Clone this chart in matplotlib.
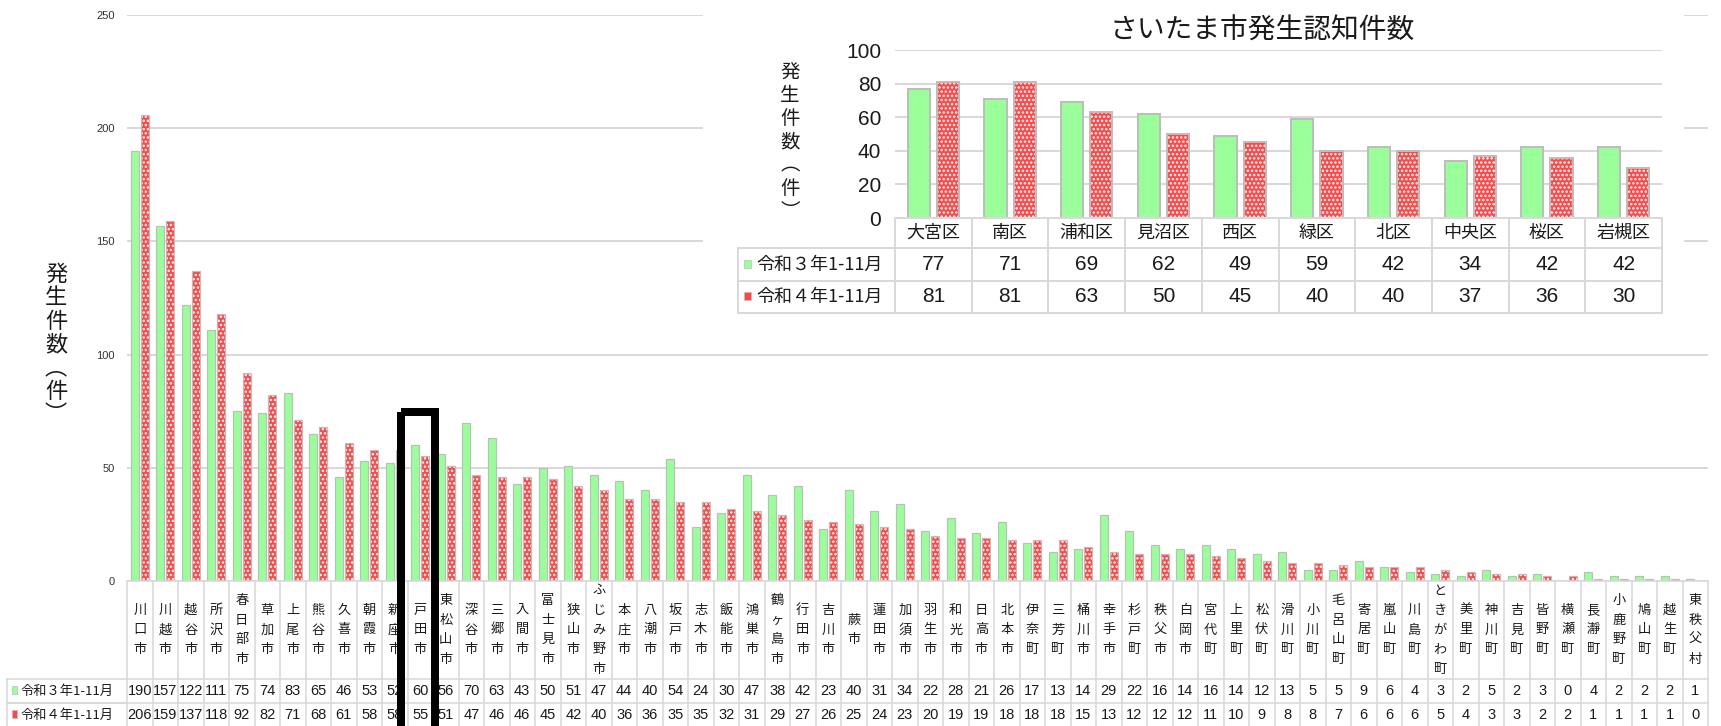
import matplotlib
matplotlib.use('Agg')
import matplotlib.pyplot as plt
from matplotlib import font_manager as fm
from matplotlib.patches import Rectangle
import matplotlib.transforms as mtrans
import numpy as np

# ---------------- data ----------------
municipalities = ['川口市', '川越市', '越谷市', '所沢市', '春日部市', '草加市', '上尾市', '熊谷市',
                  '久喜市', '朝霞市', '新座市', '戸田市', '東松山市', '深谷市', '三郷市', '入間市',
                  '富士見市', '狭山市', 'ふじみ野市', '本庄市', '八潮市', '坂戸市', '志木市', '飯能市',
                  '鴻巣市', '鶴ヶ島市', '行田市', '吉川市', '蕨市', '蓮田市', '加須市', '羽生市',
                  '和光市', '日高市', '北本市', '伊奈町', '三芳町', '桶川市', '幸手市', '杉戸町',
                  '秩父市', '白岡市', '宮代町', '上里町', '松伏町', '滑川町', '小川町', '毛呂山町',
                  '寄居町', '嵐山町', '川島町', 'ときがわ町', '美里町', '神川町', '吉見町', '皆野町',
                  '横瀬町', '長瀞町', '小鹿野町', '鳩山町', '越生町', '東秩父村']
r3_counts = [190, 157, 122, 111, 75, 74, 83, 65, 46, 53, 52, 60, 56, 70, 63, 43, 50, 51, 47, 44,
             40, 54, 24, 30, 47, 38, 42, 23, 40, 31, 34, 22, 28, 21, 26, 17, 13, 14, 29, 22,
             16, 14, 16, 14, 12, 13, 5, 5, 9, 6, 4, 3, 2, 5, 2, 3, 0, 4, 2, 2, 2, 1]
r4_counts = [206, 159, 137, 118, 92, 82, 71, 68, 61, 58, 58, 55, 51, 47, 46, 46, 45, 42, 40, 36,
             36, 35, 35, 32, 31, 29, 27, 26, 25, 24, 23, 20, 19, 19, 18, 18, 18, 15, 13, 12,
             12, 12, 11, 10, 9, 8, 8, 7, 6, 6, 6, 5, 4, 3, 3, 2, 2, 1, 1, 1, 1, 0]

wards = ['大宮区', '南区', '浦和区', '見沼区', '西区', '緑区', '北区', '中央区', '桜区', '岩槻区']
ward_r3 = [77, 71, 69, 62, 49, 59, 42, 34, 42, 42]
ward_r4 = [81, 81, 63, 50, 45, 40, 40, 37, 36, 30]

series_labels = ['令和３年1-11月', '令和４年1-11月']
main_ticks = [0, 50, 100, 150, 200, 250]
inset_ticks = [0, 20, 40, 60, 80, 100]
ylabel_chars = ['発', '生', '件', '数', '︵', '件', '︶']   # 発生件数(件), vertical forms
inset_title = 'さいたま市発生認知件数'

# ---------------- style ----------------
names = {f.name for f in fm.fontManager.ttflist}
JP = 'Noto Sans CJK JP'
NUM = 'Liberation Sans Narrow' if 'Liberation Sans Narrow' in names else 'Liberation Sans'
plt.rcParams['font.family'] = [JP, 'DejaVu Sans']
plt.rcParams['hatch.linewidth'] = 1.2

GREEN = '#99FF99'
RED = '#FF4747'
EDGE = '#BDBDBD'
GRID = '#D9D9D9'
TXT = '#1a1a1a'

W, H = 1721, 726
fig = plt.figure(figsize=(W / 100, H / 100), dpi=100)
fig.patch.set_facecolor('white')


def frac(x0, y0, x1, y1):
    return [x0 / W, 1 - y1 / H, (x1 - x0) / W, (y1 - y0) / H]


PX = 0.72  # points per pixel

# ---------------- main chart ----------------
ax = fig.add_axes(frac(127, 15, 1708, 581), zorder=1)
n = len(municipalities)
x = np.arange(n)
off, bw = 0.2, 0.31
ax.bar(x - off, r3_counts, bw, color=GREEN, edgecolor=EDGE, linewidth=1.2 * PX, zorder=3)
ax.bar(x + off, r4_counts, bw, color=RED, edgecolor='white', hatch='....', linewidth=0, zorder=3)
ax.bar(x + off, r4_counts, bw, fill=False, edgecolor=EDGE, linewidth=1.2 * PX, zorder=4)
ax.set_xlim(-0.5, n - 0.5)
ax.set_ylim(0, 250)
ax.set_yticks(main_ticks)
ax.set_yticklabels([str(t) for t in main_ticks], family=NUM, fontsize=8, color='#333333')
ax.tick_params(axis='y', length=0, pad=9)
ax.set_xticks([])
for s in ax.spines.values():
    s.set_visible(False)
ax.yaxis.grid(True, color=GRID, linewidth=2 * PX, zorder=0)
ax.set_axisbelow(True)

# ---------------- white background behind inset ----------------
bg = fig.add_axes([0, 0, 1, 1], zorder=2)
bg.set_xlim(0, W)
bg.set_ylim(H, 0)
bg.axis('off')
bg.patch.set_alpha(0)
bg.add_patch(Rectangle((703, 0), 1684 - 703, 330, facecolor='white', edgecolor='none'))

# ---------------- inset chart ----------------
ins = fig.add_axes(frac(895, 50, 1662, 218), zorder=3)
m = len(wards)
xi = np.arange(m)
ioff, ibw = 0.19, 0.29
ins.bar(xi - ioff, ward_r3, ibw, color=GREEN, edgecolor=EDGE, linewidth=2 * PX, zorder=3)
ins.bar(xi + ioff, ward_r4, ibw, color=RED, edgecolor='white', hatch='....', linewidth=0, zorder=3)
ins.bar(xi + ioff, ward_r4, ibw, fill=False, edgecolor=EDGE, linewidth=2 * PX, zorder=4)
ins.set_xlim(-0.5, m - 0.5)
ins.set_ylim(0, 100)
ins.set_yticks(inset_ticks)
ins.set_yticklabels([str(t) for t in inset_ticks], family=NUM, fontsize=15, color=TXT)
ins.tick_params(axis='y', length=0, pad=10)
ins.set_xticks([])
for s in ins.spines.values():
    s.set_visible(False)
ins.yaxis.grid(True, color=GRID, linewidth=2 * PX, zorder=0)
ins.set_axisbelow(True)
ins.patch.set_alpha(0)

# ---------------- overlay (tables, labels) ----------------
ov = fig.add_axes([0, 0, 1, 1], zorder=5)
ov.set_xlim(0, W)
ov.set_ylim(H, 0)
ov.axis('off')
ov.patch.set_alpha(0)

tm = mtrans.blended_transform_factory(ax.transData, ov.transData)
ti = mtrans.blended_transform_factory(ins.transData, ov.transData)

# main table
LW = 1.6 * PX
cat_top, cat_bot, r1_bot, r2_bot = 581, 679, 703, 727
for b in np.arange(n + 1) - 0.5:
    ov.plot([b, b], [cat_top, r2_bot], transform=tm, color=GRID, lw=LW, zorder=1)
ov.plot([-0.5, n - 0.5], [cat_top, cat_top], transform=tm, color=GRID, lw=LW, zorder=1)
ov.plot([7, 127], [cat_bot, cat_bot], color=GRID, lw=LW, zorder=1)
for yy in (cat_bot, r1_bot):
    ov.plot([-0.5, n - 0.5], [yy, yy], transform=tm, color=GRID, lw=LW, zorder=1)
    ov.plot([7, 127], [r1_bot, r1_bot], color=GRID, lw=LW, zorder=1)
ov.plot([7, 7], [cat_bot, r2_bot], color=GRID, lw=LW, zorder=1)

cat_mid = (cat_top + cat_bot) / 2
pitch = 19.5
for i, name in enumerate(municipalities):
    k = len(name)
    for j, ch in enumerate(name):
        yy = cat_mid + (j - (k - 1) / 2) * pitch
        ov.text(i, yy, ch, transform=tm, ha='center', va='center', fontsize=9.5, color=TXT)
    ov.text(i, (cat_bot + r1_bot) / 2, str(r3_counts[i]), transform=tm, ha='center', va='center',
            fontsize=10.5, family=NUM, color=TXT)
    ov.text(i, (r1_bot + r2_bot) / 2, str(r4_counts[i]), transform=tm, ha='center', va='center',
            fontsize=10.5, family=NUM, color=TXT)

for (y0, y1), lab, col in zip([(cat_bot, r1_bot), (r1_bot, r2_bot)], series_labels, [GREEN, RED]):
    yc = (y0 + y1) / 2
    ov.add_patch(Rectangle((12, yc - 5), 5, 8, facecolor=col, edgecolor=EDGE, lw=0.5))
    ov.text(21, yc, lab, ha='left', va='center', fontsize=9.5, color=TXT)

# main y label (vertical writing)
for j, ch in enumerate(ylabel_chars):
    ov.text(56, 274 + j * 23.5, ch, ha='center', va='center', fontsize=16, color=TXT)

# inset table
i_top, i_hb, i_r1, i_r2 = 218, 248, 281, 313
for b in np.arange(m + 1) - 0.5:
    ov.plot([b, b], [i_top, i_r2], transform=ti, color=GRID, lw=2 * PX, zorder=1)
ov.plot([-0.5, m - 0.5], [i_top, i_top], transform=ti, color=GRID, lw=2 * PX, zorder=1)
for yy in (i_hb, i_r1, i_r2):
    ov.plot([738, 895], [yy, yy], color=GRID, lw=2 * PX, zorder=1)
    ov.plot([-0.5, m - 0.5], [yy, yy], transform=ti, color=GRID, lw=2 * PX, zorder=1)
ov.plot([738, 738], [i_hb, i_r2], color=GRID, lw=2 * PX, zorder=1)

for i, w in enumerate(wards):
    ov.text(i, (i_top + i_hb) / 2, w, transform=ti, ha='center', va='center', fontsize=13, color=TXT)
    ov.text(i, (i_hb + i_r1) / 2, str(ward_r3[i]), transform=ti, ha='center', va='center',
            fontsize=15, family=NUM, color=TXT)
    ov.text(i, (i_r1 + i_r2) / 2, str(ward_r4[i]), transform=ti, ha='center', va='center',
            fontsize=15, family=NUM, color=TXT)

for (y0, y1), lab, col in zip([(i_hb, i_r1), (i_r1, i_r2)], series_labels, [GREEN, RED]):
    yc = (y0 + y1) / 2
    ov.add_patch(Rectangle((744, yc - 5), 7, 8, facecolor=col, edgecolor=EDGE, lw=0.5))
    ov.text(756, yc, lab, ha='left', va='center', fontsize=13, color=TXT)

ov.text(1262, 31, inset_title, ha='center', va='center', fontsize=20, color=TXT)
for j, ch in enumerate(ylabel_chars):
    ov.text(790, 73 + j * 23, ch, ha='center', va='center', fontsize=14, color=TXT)

# highlight box around 戸田市
ov.add_patch(Rectangle((401, 412), 34, 400, fill=False, edgecolor='black', lw=8 * PX,
                       joinstyle='miter', zorder=10))

fig.savefig('out.png', dpi=100, facecolor='white')
